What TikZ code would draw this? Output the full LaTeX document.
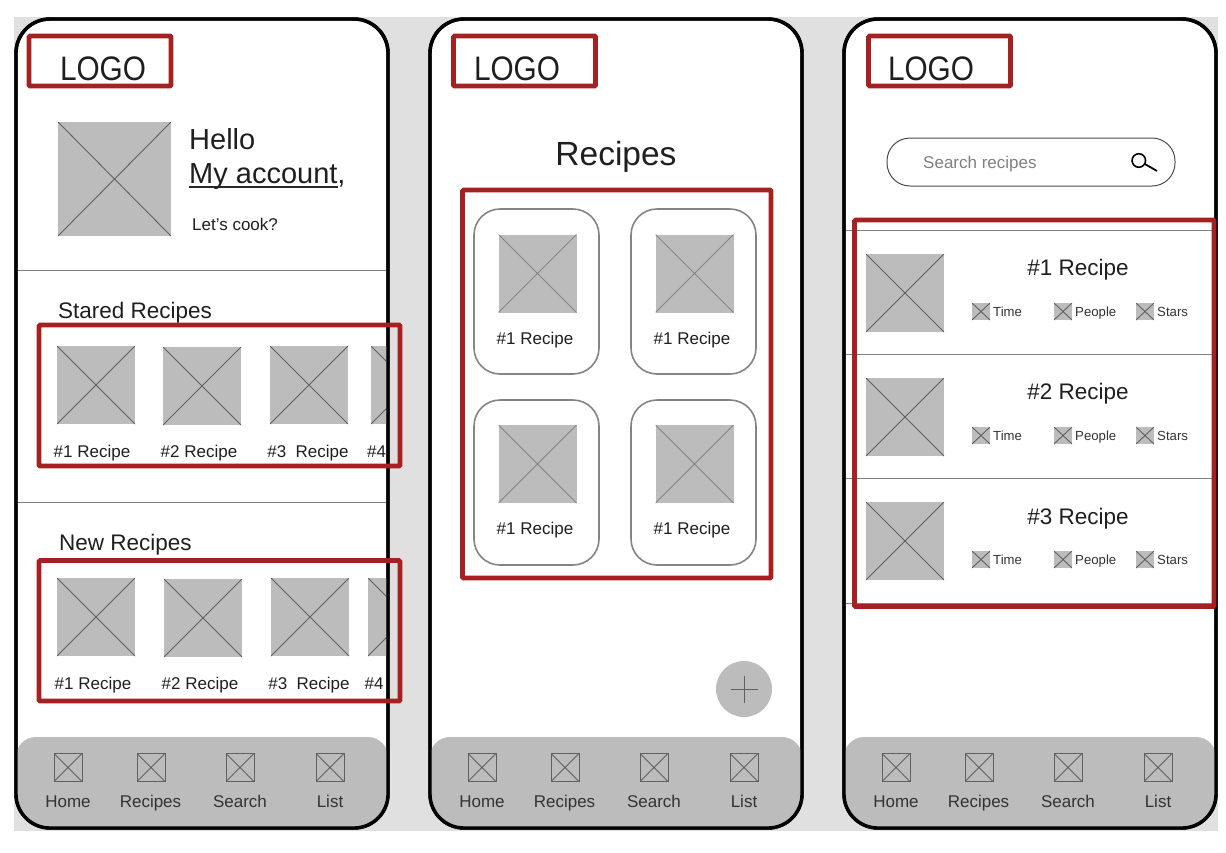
\documentclass[tikz,border=0pt]{standalone}
\usepackage{fontspec}
\setmainfont{Liberation Sans}
\newfontfamily\logofont[FakeStretch=0.875]{Liberation Sans}
\usepackage{xcolor}
\usetikzlibrary{positioning}
\definecolor{backdrop}{HTML}{E0E0E0}
\definecolor{boxgray}{HTML}{BCBCBC}
\definecolor{crossgray}{HTML}{606060}
\definecolor{softgray}{HTML}{848484}
\definecolor{markred}{HTML}{A52020}
\tikzset{
  phone/.style = {
      draw=black,
      line width=3.4pt,
      rounded corners=34pt,
      minimum width=372pt,
      minimum height=809pt
  },
  image/.style = {
      anchor=north west,
      inner sep=0pt,
      outer sep=0pt,
      fill=boxgray,
      minimum size=78pt,
      path picture={
        \draw[crossgray, line width=0.9pt]
        (path picture bounding box.north west) -- (path picture bounding box.south east)
        (path picture bounding box.south west) -- (path picture bounding box.north east);
      }
  },
  softimage/.style = {
      image,
      path picture={
        \draw[softgray, line width=0.9pt]
        (path picture bounding box.north west) -- (path picture bounding box.south east)
        (path picture bounding box.south west) -- (path picture bounding box.north east);
      }
  },
  bigimage/.style = {
      image,
      minimum width=113pt,
      minimum height=114pt
  },
  tabicon/.style = {
      image,
      draw=crossgray,
      line width=0.9pt,
      fill=none,
      minimum size=28pt
  },
  minicon/.style = {
      image,
      minimum width=18pt,
      minimum height=17pt
  },
  redbox/.style = {
      draw=markred,
      line width=4.6pt,
      rounded corners=1pt,
      anchor=north west,
      inner sep=0pt,
      outer sep=0pt
  },
  card/.style = {
      draw=softgray,
      line width=1.6pt,
      rounded corners=26pt,
      anchor=north west,
      outer sep=0pt,
      minimum width=125pt,
      minimum height=165pt
  },
  txt/.style = {
      inner sep=0pt,
      anchor=base,
      text=black!88
  },
  logo/.style = {
      txt,
      font=\logofont\fontsize{34}{36}\selectfont
  },
  thumb label/.style = {
      txt,
      font=\fontsize{17}{18}\selectfont
  },
  tab label/.style = {
      txt,
      font=\fontsize{17}{18}\selectfont,
      text=black!80
  },
  mini label/.style = {
      txt,
      anchor=west,
      text height=10pt,
      text depth=0pt,
      font=\fontsize{13.2}{16}\selectfont,
      text=black!80
  },
  heading/.style = {
      txt,
      anchor=base west,
      font=\fontsize{22.5}{26}\selectfont
  },
  title/.style = {
      txt,
      font=\fontsize{22.5}{26}\selectfont
  },
  divider/.style = {
      draw=gray,
      line width=0.9pt
  }
}
\begin{document}
\begin{tikzpicture}[x=1pt, y=-1pt]
        \useasboundingbox (0,0) rectangle (1226,852);
        \fill[backdrop] (14,17) rectangle (1218,831);
        % Screens
        \node[phone, fill=white] (screen1) at (202,423.5) {};
        \node[phone, fill=white] (screen2) at (616,423.5) {};
        \node[phone, fill=white] (screen3) at (1030,423.5) {};
        % Tab bars
        \fill[boxgray] (16,790) [rounded corners=20pt] -- (16,737) -- (388,737) [rounded corners=34pt] -- (388,828) -- (16,828) [sharp corners] -- cycle;
        \fill[boxgray] (430,790) [rounded corners=20pt] -- (430,737) -- (802,737) [rounded corners=34pt] -- (802,828) -- (430,828) [sharp corners] -- cycle;
        \fill[boxgray] (844,790) [rounded corners=20pt] -- (844,737) -- (1216,737) [rounded corners=34pt] -- (1216,828) -- (844,828) [sharp corners] -- cycle;
        % First screen
        \node[logo] (logo1) at (103,80) {LOGO};
        \node[bigimage] (avatar) at (58,122) {};
        \node[txt, anchor=base west, font=\fontsize{29}{30}\selectfont] (hello) at (189,149.5) {Hello};
        \node[txt, anchor=base west, font=\fontsize{29}{30}\selectfont] (account) at (189,183) {My account,};
        \draw[black!85, line width=1.2pt] (189,187) -- (338,187);
        \node[txt, anchor=base west, font=\fontsize{17}{18}\selectfont] (cook) at (192,230) {Let’s cook?};
        \draw[divider] (18,270) -- (386,270);
        \draw[divider] (18,502.5) -- (386,502.5);
        \node[heading] (stared) at (58,318) {Stared Recipes};
        \node[heading] (newrec) at (59,550) {New Recipes};
        \node[image] (s1) at (57,346) {};
        \node[image] (s2) at (163,347) {};
        \node[image] (s3) at (270,346) {};
        \node[image] (n1) at (57,578) {};
        \node[image] (n2) at (164,579) {};
        \node[image] (n3) at (271,578) {};
        \node[thumb label] (sl1) at (92,457) {\#1 Recipe};
        \node[thumb label] (sl2) at (199,457) {\#2 Recipe};
        \node[thumb label] (sl3) at (308,457) {\#3~~Recipe};
        \node[thumb label] (nl1) at (93,689) {\#1 Recipe};
        \node[thumb label] (nl2) at (200,689) {\#2 Recipe};
        \node[thumb label] (nl3) at (309,689) {\#3~~Recipe};
        \begin{scope}
          \clip (300,320) rectangle (386.5,705);
          \node[image] (s4) at (371,346) {};
          \node[image] (n4) at (368,578) {};
          \node[thumb label, anchor=base west] (sl4) at (367,457) {\#4 Recipe};
          \node[thumb label, anchor=base west] (nl4) at (364.5,689) {\#4 Recipe};
        \end{scope}
        % Second screen
        \node[logo] (logo2) at (517,80) {LOGO};
        \node[txt, font=\fontsize{33.5}{36}\selectfont] (recipes) at (616,165) {Recipes};
        \node[card] (c1) at (474,209) {};
        \node[card] (c2) at (631,209) {};
        \node[card] (c3) at (474,400) {};
        \node[card] (c4) at (631,400) {};
        \node[softimage] (c1img) at (498.5,234.5) {};
        \node[softimage] (c2img) at (655.5,234.5) {};
        \node[softimage] (c3img) at (498.5,425) {};
        \node[softimage] (c4img) at (655.5,425) {};
        \node[thumb label] (c1txt) at (535,344) {\#1 Recipe};
        \node[thumb label] (c2txt) at (692,344) {\#1 Recipe};
        \node[thumb label] (c3txt) at (535,534) {\#1 Recipe};
        \node[thumb label] (c4txt) at (692,534) {\#1 Recipe};
        \node[circle, fill=boxgray, minimum size=56pt, inner sep=0pt] (add) at (744,689) {};
        \draw[crossgray, line width=1pt] (730.5,689) -- (758,689) (744,675.5) -- (744,703);
        % Third screen
        \node[logo] (logo3) at (931,80) {LOGO};
        \node[draw=black!70, line width=1pt, rounded corners=23pt, minimum width=288pt, minimum height=48pt] (search) at (1031,162) {};
        \node[txt, anchor=base west, font=\fontsize{17}{18}\selectfont, text=gray] (searchtxt) at (923,168) {Search recipes};
        \node[circle, draw=black, line width=1.6pt, minimum size=13.5pt, inner sep=0pt, outer sep=0pt] (lens) at (1138.8,160.5) {};
        \draw[black, line width=1.8pt] (lens.-30) -- (1157,171);
        \draw[divider] (846,230) -- (1214,230);
        \draw[divider] (846,354) -- (1214,354);
        \draw[divider] (846,478) -- (1214,478);
        \draw[divider] (846,603) -- (1214,603);
        \node[image] (r1) at (866,254) {};
        \node[image] (r2) at (866,378) {};
        \node[image] (r3) at (866,502) {};
        \node[title] (r1txt) at (1078,275) {\#1 Recipe};
        \node[title] (r2txt) at (1078,399) {\#2 Recipe};
        \node[title] (r3txt) at (1078,524) {\#3 Recipe};
        \node[minicon] (t1) at (972,303) {};
        \node[minicon] (p1) at (1054,303) {};
        \node[minicon] (a1) at (1136,303) {};
        \node[minicon] (t2) at (972,427) {};
        \node[minicon] (p2) at (1054,427) {};
        \node[minicon] (a2) at (1136,427) {};
        \node[minicon] (t3) at (972,551) {};
        \node[minicon] (p3) at (1054,551) {};
        \node[minicon] (a3) at (1136,551) {};
        \node[mini label, right=3pt of t1] (t1txt) {Time};
        \node[mini label, right=3pt of p1] (p1txt) {People};
        \node[mini label, right=3pt of a1] (a1txt) {Stars};
        \node[mini label, right=3pt of t2] (t2txt) {Time};
        \node[mini label, right=3pt of p2] (p2txt) {People};
        \node[mini label, right=3pt of a2] (a2txt) {Stars};
        \node[mini label, right=3pt of t3] (t3txt) {Time};
        \node[mini label, right=3pt of p3] (p3txt) {People};
        \node[mini label, right=3pt of a3] (a3txt) {Stars};
        % Tab icons
        \node[tabicon] (home1) at (54,753.5) {};
        \node[tabicon] (book1) at (137,753.5) {};
        \node[tabicon] (find1) at (226,753.5) {};
        \node[tabicon] (list1) at (316,753.5) {};
        \node[tabicon] (home2) at (468,753.5) {};
        \node[tabicon] (book2) at (551,753.5) {};
        \node[tabicon] (find2) at (640,753.5) {};
        \node[tabicon] (list2) at (730,753.5) {};
        \node[tabicon] (home3) at (882,753.5) {};
        \node[tabicon] (book3) at (965,753.5) {};
        \node[tabicon] (find3) at (1054,753.5) {};
        \node[tabicon] (list3) at (1144,753.5) {};
        \node[tab label] (home1txt) at (68,807) {Home};
        \node[tab label] (book1txt) at (150.5,807) {Recipes};
        \node[tab label] (find1txt) at (240,807) {Search};
        \node[tab label] (list1txt) at (330,807) {List};
        \node[tab label] (home2txt) at (482,807) {Home};
        \node[tab label] (book2txt) at (564.5,807) {Recipes};
        \node[tab label] (find2txt) at (654,807) {Search};
        \node[tab label] (list2txt) at (744,807) {List};
        \node[tab label] (home3txt) at (896,807) {Home};
        \node[tab label] (book3txt) at (978.5,807) {Recipes};
        \node[tab label] (find3txt) at (1068,807) {Search};
        \node[tab label] (list3txt) at (1158,807) {List};
        % Outlines
        \node[phone] (frame1) at (screen1) {};
        \node[phone] (frame2) at (screen2) {};
        \node[phone] (frame3) at (screen3) {};
        % Red marks
        \node[redbox, minimum width=142pt, minimum height=50pt] (m1) at (29,36) {};
        \node[redbox, minimum width=142pt, minimum height=50pt] (m2) at (453.5,36) {};
        \node[redbox, minimum width=142pt, minimum height=50pt] (m3) at (868.5,36) {};
        \node[redbox, minimum width=361pt, minimum height=141pt] (m4) at (39,325) {};
        \node[redbox, minimum width=361pt, minimum height=140.5pt] (m5) at (39,560.5) {};
        \node[redbox, minimum width=308.5pt, minimum height=388pt] (m6) at (462.5,190) {};
        \node[redbox, minimum width=359.5pt, minimum height=386.5pt] (m7) at (854.5,220) {};
    \end{tikzpicture}
\end{document}
